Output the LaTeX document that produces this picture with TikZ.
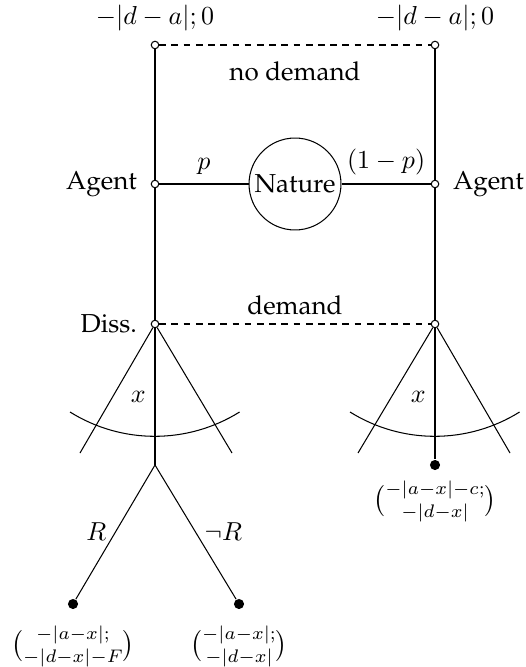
\documentclass[tikz,border=0pt]{standalone}
\usepackage[T1]{fontenc}
\usepackage{palatino}
\usepackage{amsmath}

\begin{document}
\begin{tikzpicture}[
    x=0.385pt, y=-0.385pt,
    open/.style={circle, draw, fill=white, inner sep=0pt, minimum size=2.9pt},
    term/.style={circle, fill=black, inner sep=0pt, minimum size=3.9pt},
    chance/.style={circle, draw, inner sep=0pt, minimum size=35.4pt},
    info/.style={dash pattern=on 2.6pt off 2.1pt},
    pay/.style={label distance=0.3pt},
]
\useasboundingbox (0,0) rectangle (525,667);

\def\colL{155}
\def\colR{435}
\newcommand{\payoff}[2]{$\bigl(\!\begin{smallmatrix}#1\\#2\end{smallmatrix}\!\bigr)$}

% Nature and the two agents
\node[chance] (nat) at (295,184) {Nature};
\node[open, label={[label distance=1.8pt]left:Agent}] (agL) at (\colL,184) {};
\node[open, label={[label distance=1.8pt]right:Agent}] (agR) at (\colR,184) {};

\draw (agL) -- (nat) node[midway, above] {$p$};
\draw (nat) -- (agR) node[midway, above] {$(1-p)$};

% No demand
\node[open, label={[pay]above:$-|d-a|;0$}] (ndL) at (\colL,45) {};
\node[open, label={[pay]above:$-|d-a|;0$}] (ndR) at (\colR,45) {};

\draw (agL) -- (ndL);
\draw (agR) -- (ndR);
\draw[info] (ndL) -- (ndR) node[midway, below=3pt] {no demand};

% Demand
\node[open, label={[label distance=1.8pt]left:Diss.}] (dsL) at (\colL,324) {};
\node[open] (dsR) at (\colR,324) {};

\draw (agL) -- (dsL);
\draw (agR) -- (dsR);
\draw[info] (dsL) -- (dsR) node[midway, above] {demand};

% Continuum of x, left
\coordinate (fanLa) at (80,453);
\coordinate (fanLb) at (232,453);
\coordinate (forkL) at (\colL,465);
\draw (dsL) -- (fanLa);
\draw (dsL) -- (fanLb);
\draw (dsL) -- (forkL);
\draw (70,412) arc[start angle=122, end angle=58, radius=160];
\node[left] (xL) at (\colL,397) {$x$};

% Continuum of x, right
\coordinate (fanRa) at (358,453);
\coordinate (fanRb) at (510,453);
\draw (dsR) -- (fanRa);
\draw (dsR) -- (fanRb);
\draw (350,412) arc[start angle=122, end angle=58, radius=160];
\node[left] (xR) at (\colR,397) {$x$};

\node[term, label={[label distance=0.6pt]below:\payoff{-|a-x|-c;}{-|d-x|}}] (endR) at (\colR,465) {};
\draw (dsR) -- (endR);

% Report or not
\node[term, label={[label distance=2.9pt]below:\payoff{-|a-x|;}{-|d-x|-F}}] (endRep) at (73,604) {};
\node[term, label={[label distance=2.9pt]below:\payoff{-|a-x|;}{-|d-x|}}] (endNoRep) at (239,604) {};

\draw (forkL) -- (endRep) node[midway, left] {$R$};
\draw (forkL) -- (endNoRep) node[midway, right] {$\neg R$};

\end{tikzpicture}
\end{document}
